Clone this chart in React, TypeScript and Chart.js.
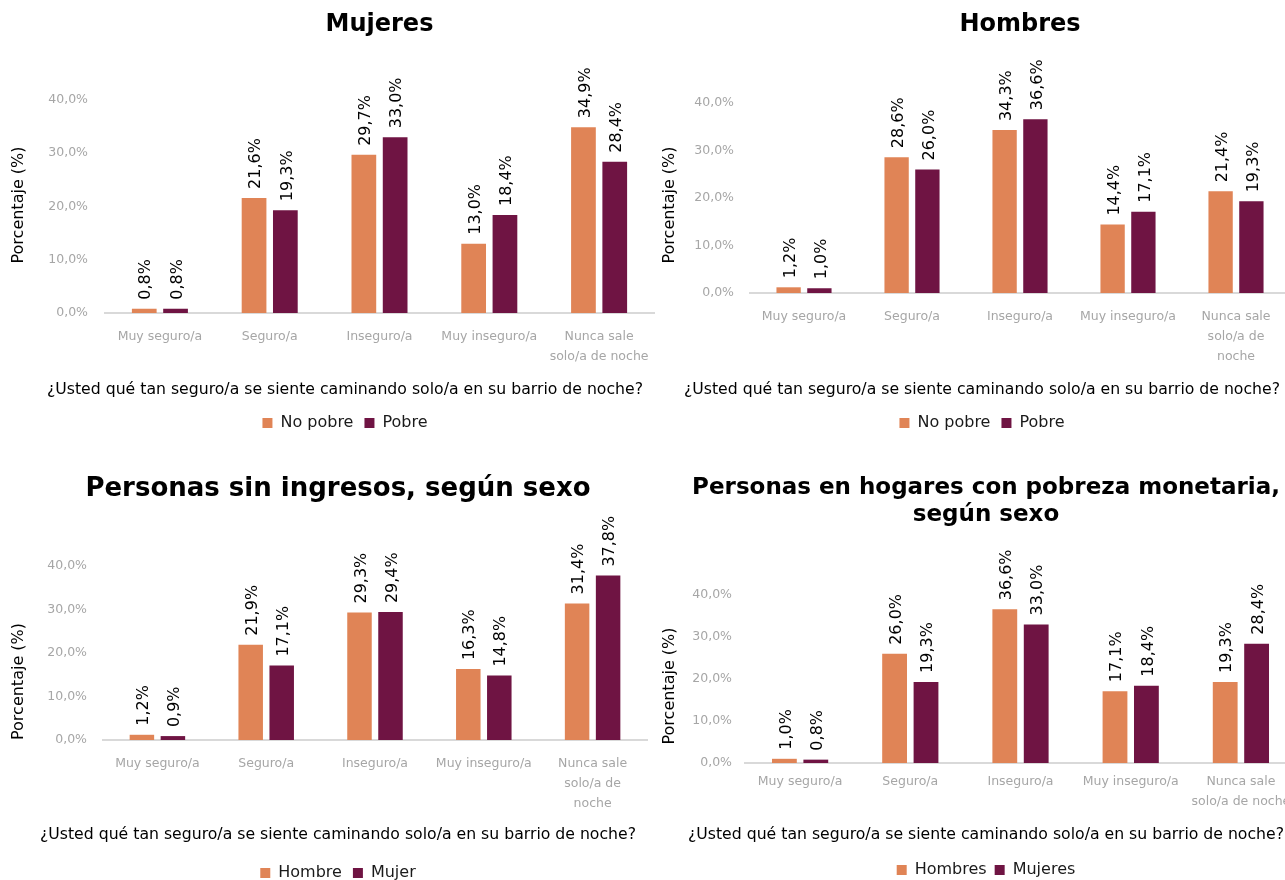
import React, { useEffect, useRef } from 'react';
import { Chart, registerables } from 'chart.js';

Chart.register(...registerables);

// ---------- data ----------
const categoriesA = ['Muy seguro/a', 'Seguro/a', 'Inseguro/a', 'Muy inseguro/a', ['Nunca sale', 'solo/a de noche']];
const categoriesB = ['Muy seguro/a', 'Seguro/a', 'Inseguro/a', 'Muy inseguro/a', ['Nunca sale', 'solo/a de', 'noche']];

const mujeresNoPobre = [0.8, 21.6, 29.7, 13.0, 34.9];
const mujeresPobre = [0.8, 19.3, 33.0, 18.4, 28.4];

const hombresNoPobre = [1.2, 28.6, 34.3, 14.4, 21.4];
const hombresPobre = [1.0, 26.0, 36.6, 17.1, 19.3];

const sinIngresosHombre = [1.2, 21.9, 29.3, 16.3, 31.4];
const sinIngresosMujer = [0.9, 17.1, 29.4, 14.8, 37.8];

const pobrezaHombres = [1.0, 26.0, 36.6, 17.1, 19.3];
const pobrezaMujeres = [0.8, 19.3, 33.0, 18.4, 28.4];

const yTickValues = [0, 10, 20, 30, 40];

const xAxisText = '¿Usted qué tan seguro/a se siente caminando solo/a en su barrio de noche?';
const yAxisText = 'Porcentaje (%)';

// ---------- style ----------
const FONT = "'DejaVu Sans', Verdana, sans-serif";
const ORANGE = '#E08456';
const PURPLE = '#6F1443';
const TICK_GREY = '#A6A6A6';
const AXIS_LINE = '#D9D9D9';

const fmtPct = (v: number) => v.toFixed(1).replace('.', ',') + '%';

const barLabels = {
  id: 'barLabels',
  afterDatasetsDraw(chart: any) {
    const ctx = chart.ctx;
    chart.data.datasets.forEach((ds: any, i: number) => {
      const meta = chart.getDatasetMeta(i);
      meta.data.forEach((bar: any, j: number) => {
        ctx.save();
        ctx.translate(bar.x + 2, bar.y - 9);
        ctx.rotate(-Math.PI / 2);
        ctx.font = `16px ${FONT}`;
        ctx.fillStyle = '#000000';
        ctx.textAlign = 'left';
        ctx.textBaseline = 'middle';
        ctx.fillText(fmtPct(ds.data[j]), 0, 0);
        ctx.restore();
      });
    });
  },
};

type Spec = {
  title: string | string[];
  titleSize: number;
  titleLH: number;
  titlePad: { top: number; bottom: number };
  titleFull: boolean;
  categories: any[];
  names: string[];
  values: number[][];
  box: { left: number; top: number; width: number; height: number };
  yW: number;
  spacerW: number;
  yMax: number;
  yTickPad: number;
  yTitleAlign: 'start' | 'center' | 'end';
  xTickPad: number;
  xH: number;
  subPad: { top: number; bottom: number };
  legendPad: number;
};

const panels: Spec[] = [
  {
    title: 'Mujeres', titleSize: 24, titleLH: 28, titlePad: { top: 11, bottom: 58 }, titleFull: false,
    categories: categoriesA, names: ['No pobre', 'Pobre'], values: [mujeresNoPobre, mujeresPobre],
    box: { left: 10, top: 0, width: 670, height: 441 }, yW: 95, spacerW: 26, yMax: 40.56, yTickPad: 17, yTitleAlign: 'center',
    xTickPad: 14, xH: 57, subPad: { top: 11, bottom: 5 }, legendPad: 11,
  },
  {
    title: 'Hombres', titleSize: 24, titleLH: 28, titlePad: { top: 11, bottom: 78 }, titleFull: false,
    categories: categoriesB, names: ['No pobre', 'Pobre'], values: [hombresNoPobre, hombresPobre],
    box: { left: 661, top: 0, width: 642, height: 441 }, yW: 89, spacerW: 13, yMax: 37.05, yTickPad: 16, yTitleAlign: 'center',
    xTickPad: 14, xH: 77, subPad: { top: 11, bottom: 5 }, legendPad: 11,
  },
  {
    title: 'Personas sin ingresos, según sexo', titleSize: 26, titleLH: 31, titlePad: { top: 29, bottom: 35 }, titleFull: true,
    categories: categoriesB, names: ['Hombre', 'Mujer'], values: [sinIngresosHombre, sinIngresosMujer],
    box: { left: 10, top: 445, width: 656, height: 446 }, yW: 93, spacerW: 19, yMax: 45.98, yTickPad: 16, yTitleAlign: 'start',
    xTickPad: 14, xH: 76, subPad: { top: 10, bottom: 10 }, legendPad: 11,
  },
  {
    title: ['Personas en hogares con pobreza monetaria,', 'según sexo'], titleSize: 23, titleLH: 27, titlePad: { top: 30, bottom: 80 }, titleFull: true,
    categories: categoriesA, names: ['Hombres', 'Mujeres'], values: [pobrezaHombres, pobrezaMujeres],
    box: { left: 661, top: 445, width: 650, height: 443 }, yW: 84, spacerW: 15, yMax: 36.67, yTickPad: 13, yTitleAlign: 'center',
    xTickPad: 9, xH: 53, subPad: { top: 10, bottom: 10 }, legendPad: 8,
  },
];

function buildConfig(spec: Spec): any {
  return {
    type: 'bar',
    data: {
      labels: spec.categories,
      datasets: [
        { label: spec.names[0], data: spec.values[0], backgroundColor: ORANGE, xAxisID: 'x', yAxisID: 'y' },
        { label: spec.names[1], data: spec.values[1], backgroundColor: PURPLE, xAxisID: 'x', yAxisID: 'y' },
      ],
    },
    options: {
      animation: false,
      responsive: true,
      maintainAspectRatio: false,
      events: [],
      layout: { padding: 0 },
      datasets: { bar: { barPercentage: 0.79, categoryPercentage: 0.57 } },
      scales: {
        x: {
          type: 'category',
          position: 'bottom',
          grid: { display: false, drawTicks: false },
          border: { display: true, color: AXIS_LINE, width: 2 },
          ticks: {
            color: TICK_GREY,
            font: { family: FONT, size: 12.5, lineHeight: '20px' },
            padding: spec.xTickPad,
            autoSkip: false,
            maxRotation: 0,
            minRotation: 0,
          },
          afterFit: (s: any) => { s.height = spec.xH; },
        },
        y: {
          type: 'linear',
          position: 'left',
          min: 0,
          max: spec.yMax,
          grid: { display: false, drawTicks: false },
          border: { display: false },
          ticks: {
            color: TICK_GREY,
            font: { family: FONT, size: 12.5 },
            padding: spec.yTickPad,
            autoSkip: false,
            callback: (v: any) => fmtPct(Number(v)),
          },
          afterBuildTicks: (s: any) => { s.ticks = yTickValues.map((v) => ({ value: v })); },
          title: {
            display: true,
            text: yAxisText,
            align: spec.yTitleAlign,
            color: '#000000',
            font: { family: FONT, size: 16, lineHeight: '17px' },
            padding: 0,
          },
          afterFit: (s: any) => { s.width = spec.yW; },
        },
        spacer: {
          type: 'linear',
          axis: 'y',
          position: 'right',
          display: true,
          grid: { display: false, drawTicks: false },
          border: { display: false },
          ticks: { display: false },
          afterFit: (s: any) => { s.width = spec.spacerW; },
        },
      },
      plugins: {
        title: {
          display: true,
          text: spec.title,
          color: '#000000',
          font: { family: FONT, size: spec.titleSize, weight: 'bold', lineHeight: `${spec.titleLH}px` },
          padding: spec.titlePad,
          fullSize: spec.titleFull,
        },
        subtitle: {
          display: true,
          text: xAxisText,
          position: 'bottom',
          color: '#000000',
          font: { family: FONT, size: 15.7, lineHeight: '18px' },
          padding: spec.subPad,
          fullSize: true,
        },
        legend: {
          display: true,
          position: 'bottom',
          weight: 2500,
          labels: {
            boxWidth: 10,
            boxHeight: 10,
            color: '#1A1A1A',
            font: { family: FONT, size: 16 },
            padding: spec.legendPad,
          },
        },
        tooltip: { enabled: false },
      },
    },
    plugins: [barLabels],
  };
}

function Panel({ spec }: { spec: Spec }) {
  const ref = useRef<HTMLCanvasElement>(null);
  useEffect(() => {
    const chart = new Chart(ref.current as HTMLCanvasElement, buildConfig(spec));
    return () => chart.destroy();
  }, [spec]);
  return (
    <div style={{ position: 'absolute', left: spec.box.left, top: spec.box.top, width: spec.box.width, height: spec.box.height }}>
      <canvas ref={ref} />
    </div>
  );
}

export default function App() {
  return (
    <div style={{ position: 'fixed', left: 0, top: 0, width: 1285, height: 880, overflow: 'hidden', background: '#FFFFFF' }}>
      {panels.map((p, i) => (
        <Panel key={i} spec={p} />
      ))}
    </div>
  );
}
